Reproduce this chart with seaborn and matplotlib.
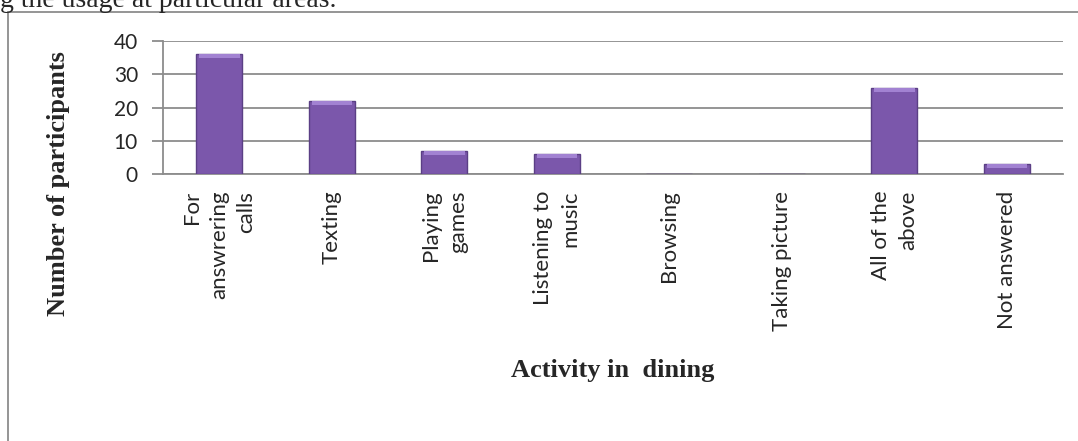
import numpy as np
import pandas as pd
import matplotlib
matplotlib.use("Agg")
import matplotlib.pyplot as plt
import seaborn as sns
from matplotlib.lines import Line2D

activities = ["For\nanswrering\ncalls", "Texting", "Playing\ngames", "Listening to\nmusic",
              "Browsing", "Taking picture", "All of the\nabove", "Not answered"]
participants = [36, 22, 7, 6, 0, 0, 26, 3]
y_ticks = [0, 10, 20, 30, 40]

df = pd.DataFrame({"activity": activities, "count": participants})

sns.set_theme(style="white")
plt.rcParams["font.family"] = ["Lato", "DejaVu Sans"]

fig = plt.figure(figsize=(10.78, 4.41), dpi=100)
ax = fig.add_axes([163 / 1078, 1 - 174 / 441, 900 / 1078, 133 / 441])

grid_c = "#8c8c8c"
sns.barplot(data=df, x="activity", y="count", color="#7b57ab", width=0.41,
            edgecolor="#5b3f85", linewidth=1.0, saturation=1, ax=ax, zorder=3)

# light bevel on top of each bar
idx = np.arange(len(participants))
vals = np.array(participants, dtype=float)
cap = np.minimum(vals, 1.2)
ax.bar(idx, cap, bottom=vals - cap, width=0.36, color="#a282d2", linewidth=0, zorder=4)

ax.set_ylim(0, 40)
ax.set_xlim(-0.5, len(activities) - 0.5)
ax.set_yticks(y_ticks)
ax.yaxis.grid(True, color=grid_c, linewidth=1.3, zorder=0)
ax.set_axisbelow(True)
for s in ["top", "right"]:
    ax.spines[s].set_visible(False)
ax.spines["left"].set_color(grid_c)
ax.spines["bottom"].set_color(grid_c)
ax.spines["left"].set_linewidth(1.3)
ax.spines["bottom"].set_linewidth(1.3)
ax.tick_params(axis="y", left=True, length=8, width=1.3, color=grid_c, labelsize=15, pad=10)
ax.tick_params(axis="x", bottom=False, labelsize=16, pad=6)
ax.set_xticks(idx)
ax.set_xticklabels(activities, rotation=90, ha="center", va="top", multialignment="right",
                   linespacing=1.45)
ax.set_xlabel("")
ax.set_ylabel("")

fig.text(59 / 1078, 1 - 184 / 441, "Number of participants", rotation=90, ha="center", va="center",
         fontsize=19, fontweight="bold", family=["Liberation Serif"])
fig.text(613 / 1078, 1 - 370 / 441, "Activity in  dining", ha="center", va="center",
         fontsize=19, fontweight="bold", family=["Liberation Serif"])
fig.text(0.0, 1 - 7 / 441, "g the usage at particular areas.", ha="left", va="baseline",
         fontsize=20, family=["Liberation Serif"])

# document frame
fig.add_artist(Line2D([8 / 1078, 8 / 1078], [0, 1 - 12 / 441], transform=fig.transFigure,
                      color=grid_c, linewidth=1.3))
fig.add_artist(Line2D([8 / 1078, 1], [1 - 12 / 441, 1 - 12 / 441], transform=fig.transFigure,
                      color=grid_c, linewidth=1.3))

fig.savefig("out.png", dpi=100)
